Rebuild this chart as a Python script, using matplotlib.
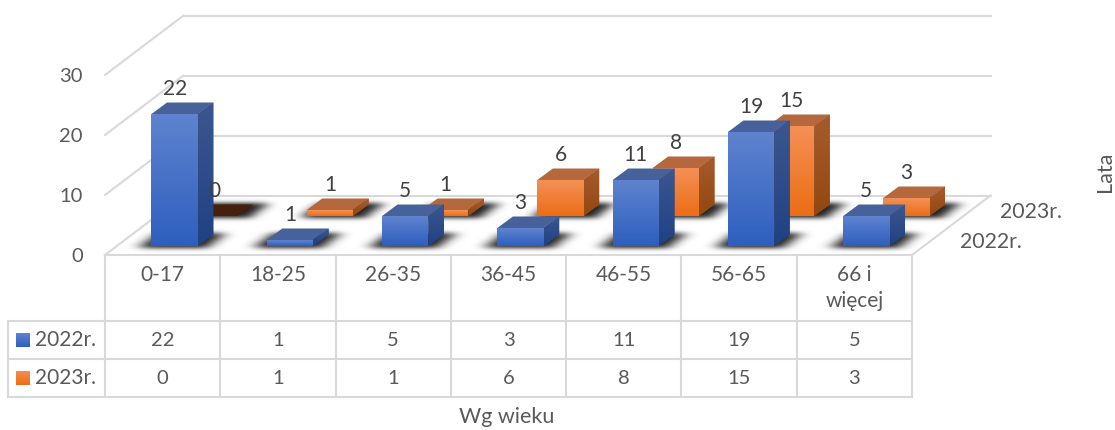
import numpy as np
import matplotlib
matplotlib.use("Agg")
import matplotlib.pyplot as plt
from matplotlib.colors import LinearSegmentedColormap
from matplotlib.patches import Polygon

plt.rcParams['font.family'] = ['Lato', 'DejaVu Sans']

categories = ['0-17', '18-25', '26-35', '36-45', '46-55', '56-65', '66 i\nwięcej']
series_names = ['2022r.', '2023r.']
values_2022 = [22, 1, 5, 3, 11, 19, 5]
values_2023 = [0, 1, 1, 6, 8, 15, 3]
y_ticks = [0, 10, 20, 30]

W, H = 1115, 430
L, R, T, B = 105, 912, 75, 255      # front plane of the chart, in pixels
fig = plt.figure(figsize=(W / 100, H / 100), dpi=100)
ax = fig.add_axes([L / W, 1 - B / H, (R - L) / W, (B - T) / H])
ax.set_xlim(0, len(categories))
ax.set_ylim(0, 30)
ax.autoscale(False)
ax.patch.set_visible(False)
for s in ax.spines.values():
    s.set_visible(False)

SX = (R - L) / len(categories)      # px per category
SY = (B - T) / 30                   # px per value unit
dx = lambda px: px / SX
dy = lambda px: px / SY
px2x = lambda px: (px - L) / SX
px2y = lambda py: (B - py) / SY

GRID = '#D9D9D9'
TXT = '#595959'
LAB = '#404040'

# axis ticks + labels
ax.set_yticks(y_ticks)
ax.set_xticks(np.arange(len(categories)) + 0.5)
ax.set_xticklabels(categories, linespacing=1.4)
ax.tick_params(axis='y', length=0, pad=16, labelsize=14.5, labelcolor=TXT)
ax.tick_params(axis='x', length=0, pad=7, labelsize=15, labelcolor=TXT)
ax.set_xlabel('Wg wieku', fontsize=15.5, color=TXT, va='center')
ax.xaxis.set_label_coords((507 - L) / (R - L), (B - 417) / (B - T))
fig.text(1105 / W, 1 - 172 / H, 'Lata', rotation=90, fontsize=15.5, color=TXT,
         ha='center', va='center')


def line(xs, ys, lw=1.5):
    ax.plot(xs, ys, color=GRID, lw=lw, clip_on=False, zorder=1,
            solid_capstyle='projecting')


# walls and floor
WX, WY = dx(78.5), dy(59.5)
for v in y_ticks:
    line([0, WX], [v, v + WY])
    line([WX, 7 + WX], [v + WY, v + WY])
line([0, 7], [0, 0])
line([7, 7 + WX], [0, WY])

# data table
row_lines = [px2y(321), px2y(359), px2y(397)]
for i in range(len(categories) + 1):
    line([i, i], [0, row_lines[-1]])
line([px2x(8), px2x(8)], [row_lines[0], row_lines[-1]])
for r in row_lines:
    line([px2x(8), 7], [r, r])

tx = dict(color=TXT, va='center', clip_on=False)
row_centres = [px2y(340), px2y(378)]
for name, vals, yc in zip(series_names, [values_2022, values_2023], row_centres):
    ax.text(px2x(35), yc, name, ha='left', fontsize=15, **tx)
    for i, v in enumerate(vals):
        ax.text(i + 0.5, yc, str(v), ha='center', fontsize=14.5, **tx)

# depth labels
ax.text(px2x(1000), px2y(212), series_names[1], ha='left', fontsize=15.3, **tx)
ax.text(px2x(960), px2y(242), series_names[0], ha='left', fontsize=15.3, **tx)

BLUE = dict(front=('#5F83CF', '#2E5FBE'), side=('#3C578F', '#1F4183'), top='#47629B')
ORANGE = dict(front=('#F49056', '#EC6D15'), side=('#A65B2E', '#93480F'), top='#B5683C')
ZERO_TOP = '#46200A'


def grad(verts, c_top, c_bot, z):
    """Vertical gradient clipped to a polygon given in data coordinates."""
    verts = np.asarray(verts)
    ax.add_patch(Polygon(verts, closed=True, fc=c_bot, ec='none', zorder=z, clip_on=False))
    cm = LinearSegmentedColormap.from_list('g', [c_top, c_bot])
    im = ax.imshow(np.linspace(0, 1, 256)[:, None], cmap=cm, aspect='auto',
                   extent=[verts[:, 0].min(), verts[:, 0].max(),
                           verts[:, 1].min(), verts[:, 1].max()],
                   origin='upper', zorder=z, interpolation='nearest')
    poly = Polygon(verts, closed=True, transform=ax.transData, fc='none', ec='none')
    im.set_clip_path(poly)
    im.set_clip_box(fig.bbox)


BAR_W = 46.3 / SX
DDX, DDY = dx(15.5), dy(11.5)


def blur(a, sx, sy):
    def kern(s):
        r = int(3 * s) + 1
        k = np.exp(-0.5 * (np.arange(-r, r + 1) / s) ** 2)
        return k / k.sum()
    a = np.apply_along_axis(lambda c: np.convolve(c, kern(sx), mode='same'), 1, a)
    return np.apply_along_axis(lambda c: np.convolve(c, kern(sy), mode='same'), 0, a)


def shadow_layer(n, off_x, off_y, el, er, sx, sy, peak, z):
    """Soft floor shadows: blurred bar footprints drawn as one translucent image."""
    y0, y1 = 150, 265
    gx, gy = np.meshgrid(np.arange(W) + 0.5, np.arange(y0, y1) + 0.5)
    xc = L + (np.arange(n) + 0.5) * SX + off_x
    yf = B - off_y
    t = np.clip((yf - gy) / 11.5, 0, 1)
    mask = np.zeros(gx.shape)
    inside_y = (gy <= yf + 1.5) & (gy >= yf - 13)
    for c in xc:
        a = c - 46.3 / 2 + 15.5 * t - el
        b = c + 46.3 / 2 + 15.5 * t + er
        mask[inside_y & (gx >= a) & (gx <= b)] = 1
    alpha = np.clip(blur(mask, sx, sy) * peak, 0, 1)
    rgba = np.zeros(gx.shape + (4,))
    rgba[..., 3] = alpha
    im = ax.imshow(rgba, aspect='auto', interpolation='nearest', zorder=z, origin='upper',
                   extent=[px2x(0), px2x(W), px2y(y1), px2y(y0)])
    im.set_clip_box(fig.bbox)


def draw_row(vals, off_x, off_y, style, z0):
    xs = np.arange(len(vals)) + 0.5 + dx(off_x)
    base = dy(off_y)
    heights = np.asarray(vals, dtype=float)
    bars = ax.bar(xs, heights, width=BAR_W, bottom=base, color=style['front'][1],
                  zorder=z0, clip_on=False, linewidth=0)
    for i, (b, v) in enumerate(zip(bars, heights)):
        x0, x1 = b.get_x(), b.get_x() + b.get_width()
        y0, y1 = base, base + v
        z = z0 + i * 0.01
        top = [(x0, y1), (x1, y1), (x1 + DDX, y1 + DDY), (x0 + DDX, y1 + DDY)]
        ax.add_patch(Polygon(top, closed=True, ec='none', clip_on=False, zorder=z,
                             fc=ZERO_TOP if v == 0 else style['top']))
        if v > 0:
            grad([(x1, y0), (x1 + DDX, y0 + DDY), (x1 + DDX, y1 + DDY), (x1, y1)],
                 style['side'][0], style['side'][1], z)
            grad([(x0, y0), (x1, y0), (x1, y1), (x0, y1)],
                 style['front'][0], style['front'][1], z)
        ax.text(xs[i], y1 + DDY + dy(14), f'{int(v)}', ha='center', va='center',
                fontsize=15, color=LAB, zorder=100, clip_on=False)


shadow_layer(len(categories), 52, 39, 4, 14, 6.5, 2.2, 0.88, 2)
shadow_layer(len(categories), 12, 9, 11, 11, 7, 2.2, 0.88, 2)
draw_row(values_2023, 52, 39, ORANGE, 3)
draw_row(values_2022, 12, 9, BLUE, 4)

# legend swatches in the table
for yc, st in zip(row_centres, [BLUE, ORANGE]):
    x0, x1 = px2x(16), px2x(30)
    y0, y1 = yc - dy(7), yc + dy(7)
    grad([(x0, y0), (x1, y0), (x1, y1), (x0, y1)], st['front'][0], st['front'][1], 5)

fig.savefig('out.png', dpi=100)
